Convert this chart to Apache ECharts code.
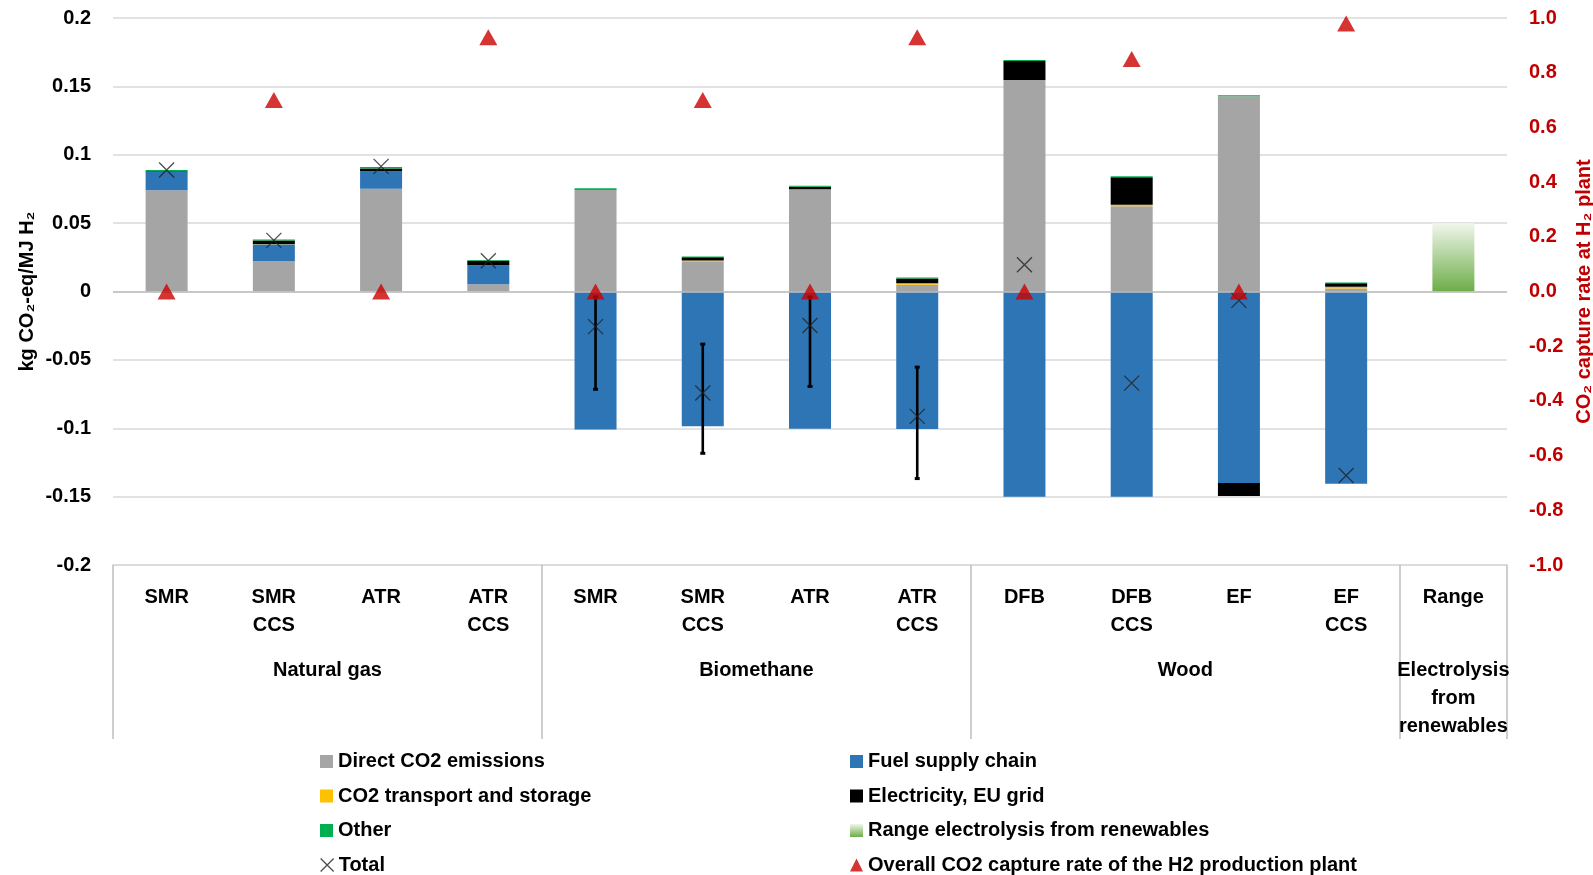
<!DOCTYPE html>
<html>
<head>
<meta charset="utf-8">
<script src="https://cdn.jsdelivr.net/npm/echarts@6/dist/echarts.min.js"></script>
<style>
html,body{margin:0;padding:0;background:#fff;}
#chart{width:1593px;height:875px;}
</style>
</head>
<body>
<div id="chart"></div>
<script>
// ---------- data ----------
const categories = ['SMR','SMR\nCCS','ATR','ATR\nCCS','SMR','SMR\nCCS','ATR','ATR\nCCS','DFB','DFB\nCCS','EF','EF\nCCS','Range'];
const groupNames = ['Natural gas','Biomethane','Wood','Electrolysis\nfrom\nrenewables'];
const groupSizes = [4,4,4,1];

const directCO2   = [0.0740, 0.0221, 0.0752, 0.0053, 0.0744, 0.0216, 0.0747, 0.0050, 0.1546, 0.0624, 0.1427, 0.0022, null];
const fuelSupply  = [0.0138, 0.0124, 0.0128, 0.0134, -0.1010, -0.0986, -0.1003, -0.1005, -0.1500, -0.1500, -0.1400, -0.1405, null];
const transport   = [0, 0.0003, 0, 0.0004, 0, 0.0010, 0, 0.0010, 0, 0.0010, 0, 0.0012, null];
const electricity = [0.0003, 0.0025, 0.0020, 0.0034, 0.0003, 0.0025, 0.0019, 0.0035, 0.0139, 0.0202, -0.0095, 0.0026, null];
const other       = [0.0008, 0.0007, 0.0010, 0.0006, 0.0008, 0.0005, 0.0008, 0.0007, 0.0008, 0.0006, 0.0008, 0.0005, null];
const rangeElec   = [null, null, null, null, null, null, null, null, null, null, null, null, 0.05];
const total       = [0.0888, 0.0374, 0.0915, 0.0225, -0.0257, -0.0742, -0.0249, -0.0913, 0.0195, -0.0670, -0.0065, -0.1346, null];
const errLow      = [null, null, null, null, -0.0715, -0.1183, -0.0694, -0.1368, null, null, null, null, null];
const errHigh     = [null, null, null, null, -0.0040, -0.0385, -0.0040, -0.0553, null, null, null, null, null];
const captureRate = [0, 0.70, 0, 0.93, 0, 0.70, 0, 0.93, 0, 0.85, 0, 0.98, null];

const leftTicks  = {min: -0.2, max: 0.2, step: 0.05};
const rightTicks = {min: -1.0, max: 1.0, step: 0.2};

const legendLeft  = ['Direct CO2 emissions', 'CO2 transport and storage', 'Other', 'Total'];
const legendRight = ['Fuel supply chain', 'Electricity, EU grid', 'Range electrolysis from renewables', 'Overall CO2 capture rate of the H2 production plant'];

// ---------- derived ----------
const groupBounds = [0];
groupSizes.forEach(s => groupBounds.push(groupBounds[groupBounds.length-1] + s));
const groupCenters = groupSizes.map((s,i) => groupBounds[i] + s/2);

const errData = [];
errLow.forEach((v,i) => { if (v !== null) errData.push([i, v, errHigh[i]]); });

const FONT = 'Liberation Sans';
const FS = 20;
const RED = '#c00000';
const crossPath = 'path://M0,0L10,10M10,0L0,10';

const chart = echarts.init(document.getElementById('chart'), null, {renderer: 'canvas'});

function barSeries(name, data, color) {
  return {
    name, type: 'bar', stack: 'total', data, barWidth: 42,
    itemStyle: {color}, z: 2, emphasis: {disabled: true}
  };
}

const rangeGradient = new echarts.graphic.LinearGradient(0, 0, 0, 1, [
  {offset: 0, color: '#f0f6ec'},
  {offset: 1, color: '#6dad48'}
]);

function iconFor(name) {
  if (name === 'Total') return {name, icon: crossPath, itemStyle: {color: 'transparent', borderColor: '#222', borderWidth: 1.3}};
  if (name.indexOf('Overall') === 0) return {name, icon: 'triangle'};
  return {name, icon: 'rect'};
}
const rowTops = [751.5, 786, 820.5, 855];
const legends = [];
legendLeft.forEach((n, i) => legends.push({
  left: 320, top: rowTops[i], padding: 0, itemWidth: 13, itemHeight: 13, itemGap: 0,
  textStyle: {color: '#000', fontFamily: FONT, fontWeight: 'bold', fontSize: FS, lineHeight: 20},
  data: [iconFor(n)]
}));
legendRight.forEach((n, i) => legends.push({
  left: 850, top: rowTops[i], padding: 0, itemWidth: 13, itemHeight: 13, itemGap: 0,
  textStyle: {color: '#000', fontFamily: FONT, fontWeight: 'bold', fontSize: FS, lineHeight: 20},
  data: [iconFor(n)]
}));

const option = {
  animation: false,
  backgroundColor: '#fff',
  textStyle: {fontFamily: FONT},
  grid: {left: 113, right: 86, top: 18, bottom: 310, containLabel: false, outerBoundsMode: 'none'},
  xAxis: [
    {
      type: 'category', data: categories, position: 'bottom',
      axisLine: {onZero: false, lineStyle: {color: '#d9d9d9', width: 1.5}},
      axisTick: {show: false},
      axisLabel: {interval: 0, margin: 18, color: '#000', fontFamily: FONT, fontWeight: 'bold', fontSize: FS, lineHeight: 28, align: 'center'},
      splitLine: {show: false}
    },
    {
      type: 'value', position: 'bottom', min: 0, max: groupBounds[groupBounds.length-1],
      axisLine: {show: false, onZero: false},
      splitLine: {show: false},
      axisTick: {show: true, customValues: groupBounds, length: 174, inside: false, lineStyle: {color: '#bfbfbf', width: 1.5}},
      axisLabel: {
        customValues: groupCenters, margin: 91, color: '#000', fontFamily: FONT, fontWeight: 'bold', fontSize: FS, lineHeight: 28,
        formatter: v => { const i = groupCenters.indexOf(v); return i >= 0 ? groupNames[i] : ''; }
      }
    }
  ],
  yAxis: [
    {
      type: 'value', min: leftTicks.min, max: leftTicks.max, interval: leftTicks.step,
      name: 'kg CO₂-eq/MJ H₂', nameLocation: 'middle', nameGap: 76, nameRotate: 90, nameMoveOverlap: false,
      nameTextStyle: {color: '#000', fontFamily: FONT, fontWeight: 'bold', fontSize: FS},
      axisLine: {show: false}, axisTick: {show: false},
      axisLabel: {color: '#000', fontFamily: FONT, fontWeight: 'bold', fontSize: FS, margin: 22,
        formatter: v => String(parseFloat(v.toFixed(2)))},
      splitLine: {lineStyle: {color: '#d9d9d9', width: 1.5}}
    },
    {
      type: 'value', min: rightTicks.min, max: rightTicks.max, interval: rightTicks.step, position: 'right',
      name: 'CO₂ capture rate at H₂ plant', nameLocation: 'middle', nameGap: 66, nameRotate: 90,
      nameTextStyle: {color: RED, fontFamily: FONT, fontWeight: 'bold', fontSize: FS},
      axisLine: {show: false}, axisTick: {show: false},
      axisLabel: {color: RED, fontFamily: FONT, fontWeight: 'bold', fontSize: FS, margin: 22,
        formatter: v => v.toFixed(1)},
      splitLine: {show: false}
    }
  ],
  legend: legends,
  series: [
    Object.assign(barSeries('Direct CO2 emissions', directCO2, '#a5a5a5'), {
      markLine: {silent: true, symbol: 'none', label: {show: false}, z: 3,
        lineStyle: {color: '#bfbfbf', width: 1.5, type: 'solid'}, data: [{yAxis: 0}]}
    }),
    barSeries('Fuel supply chain', fuelSupply, '#2e75b6'),
    barSeries('CO2 transport and storage', transport, '#ffc000'),
    barSeries('Electricity, EU grid', electricity, '#000000'),
    barSeries('Other', other, '#00b050'),
    barSeries('Range electrolysis from renewables', rangeElec, rangeGradient),
    {
      name: 'Error', type: 'custom', data: errData, z: 4, silent: true,
      encode: {x: 0, y: [1, 2]},
      renderItem: function (params, api) {
        const x = api.value(0);
        const lo = api.coord([x, api.value(1)]);
        const hi = api.coord([x, api.value(2)]);
        const st = {stroke: '#000', lineWidth: 2.6};
        return {
          type: 'group',
          children: [
            {type: 'line', shape: {x1: lo[0], y1: lo[1], x2: hi[0], y2: hi[1]}, style: st},
            {type: 'line', shape: {x1: lo[0]-2.5, y1: lo[1], x2: lo[0]+2.5, y2: lo[1]}, style: {stroke: '#000', lineWidth: 3}},
            {type: 'line', shape: {x1: hi[0]-2.5, y1: hi[1], x2: hi[0]+2.5, y2: hi[1]}, style: {stroke: '#000', lineWidth: 3}}
          ]
        };
      }
    },
    {
      name: 'Total', type: 'scatter', data: total, symbol: crossPath, symbolSize: 15, z: 5,
      itemStyle: {color: 'transparent', borderColor: '#222', borderWidth: 1.3},
      emphasis: {disabled: true}
    },
    {
      name: 'Overall CO2 capture rate of the H2 production plant', type: 'scatter', yAxisIndex: 1,
      data: captureRate, symbol: 'triangle', symbolSize: [18, 16], z: 6,
      itemStyle: {color: '#cc0000'}, emphasis: {disabled: true}
    }
  ]
};
chart.setOption(option);
</script>
</body>
</html>
